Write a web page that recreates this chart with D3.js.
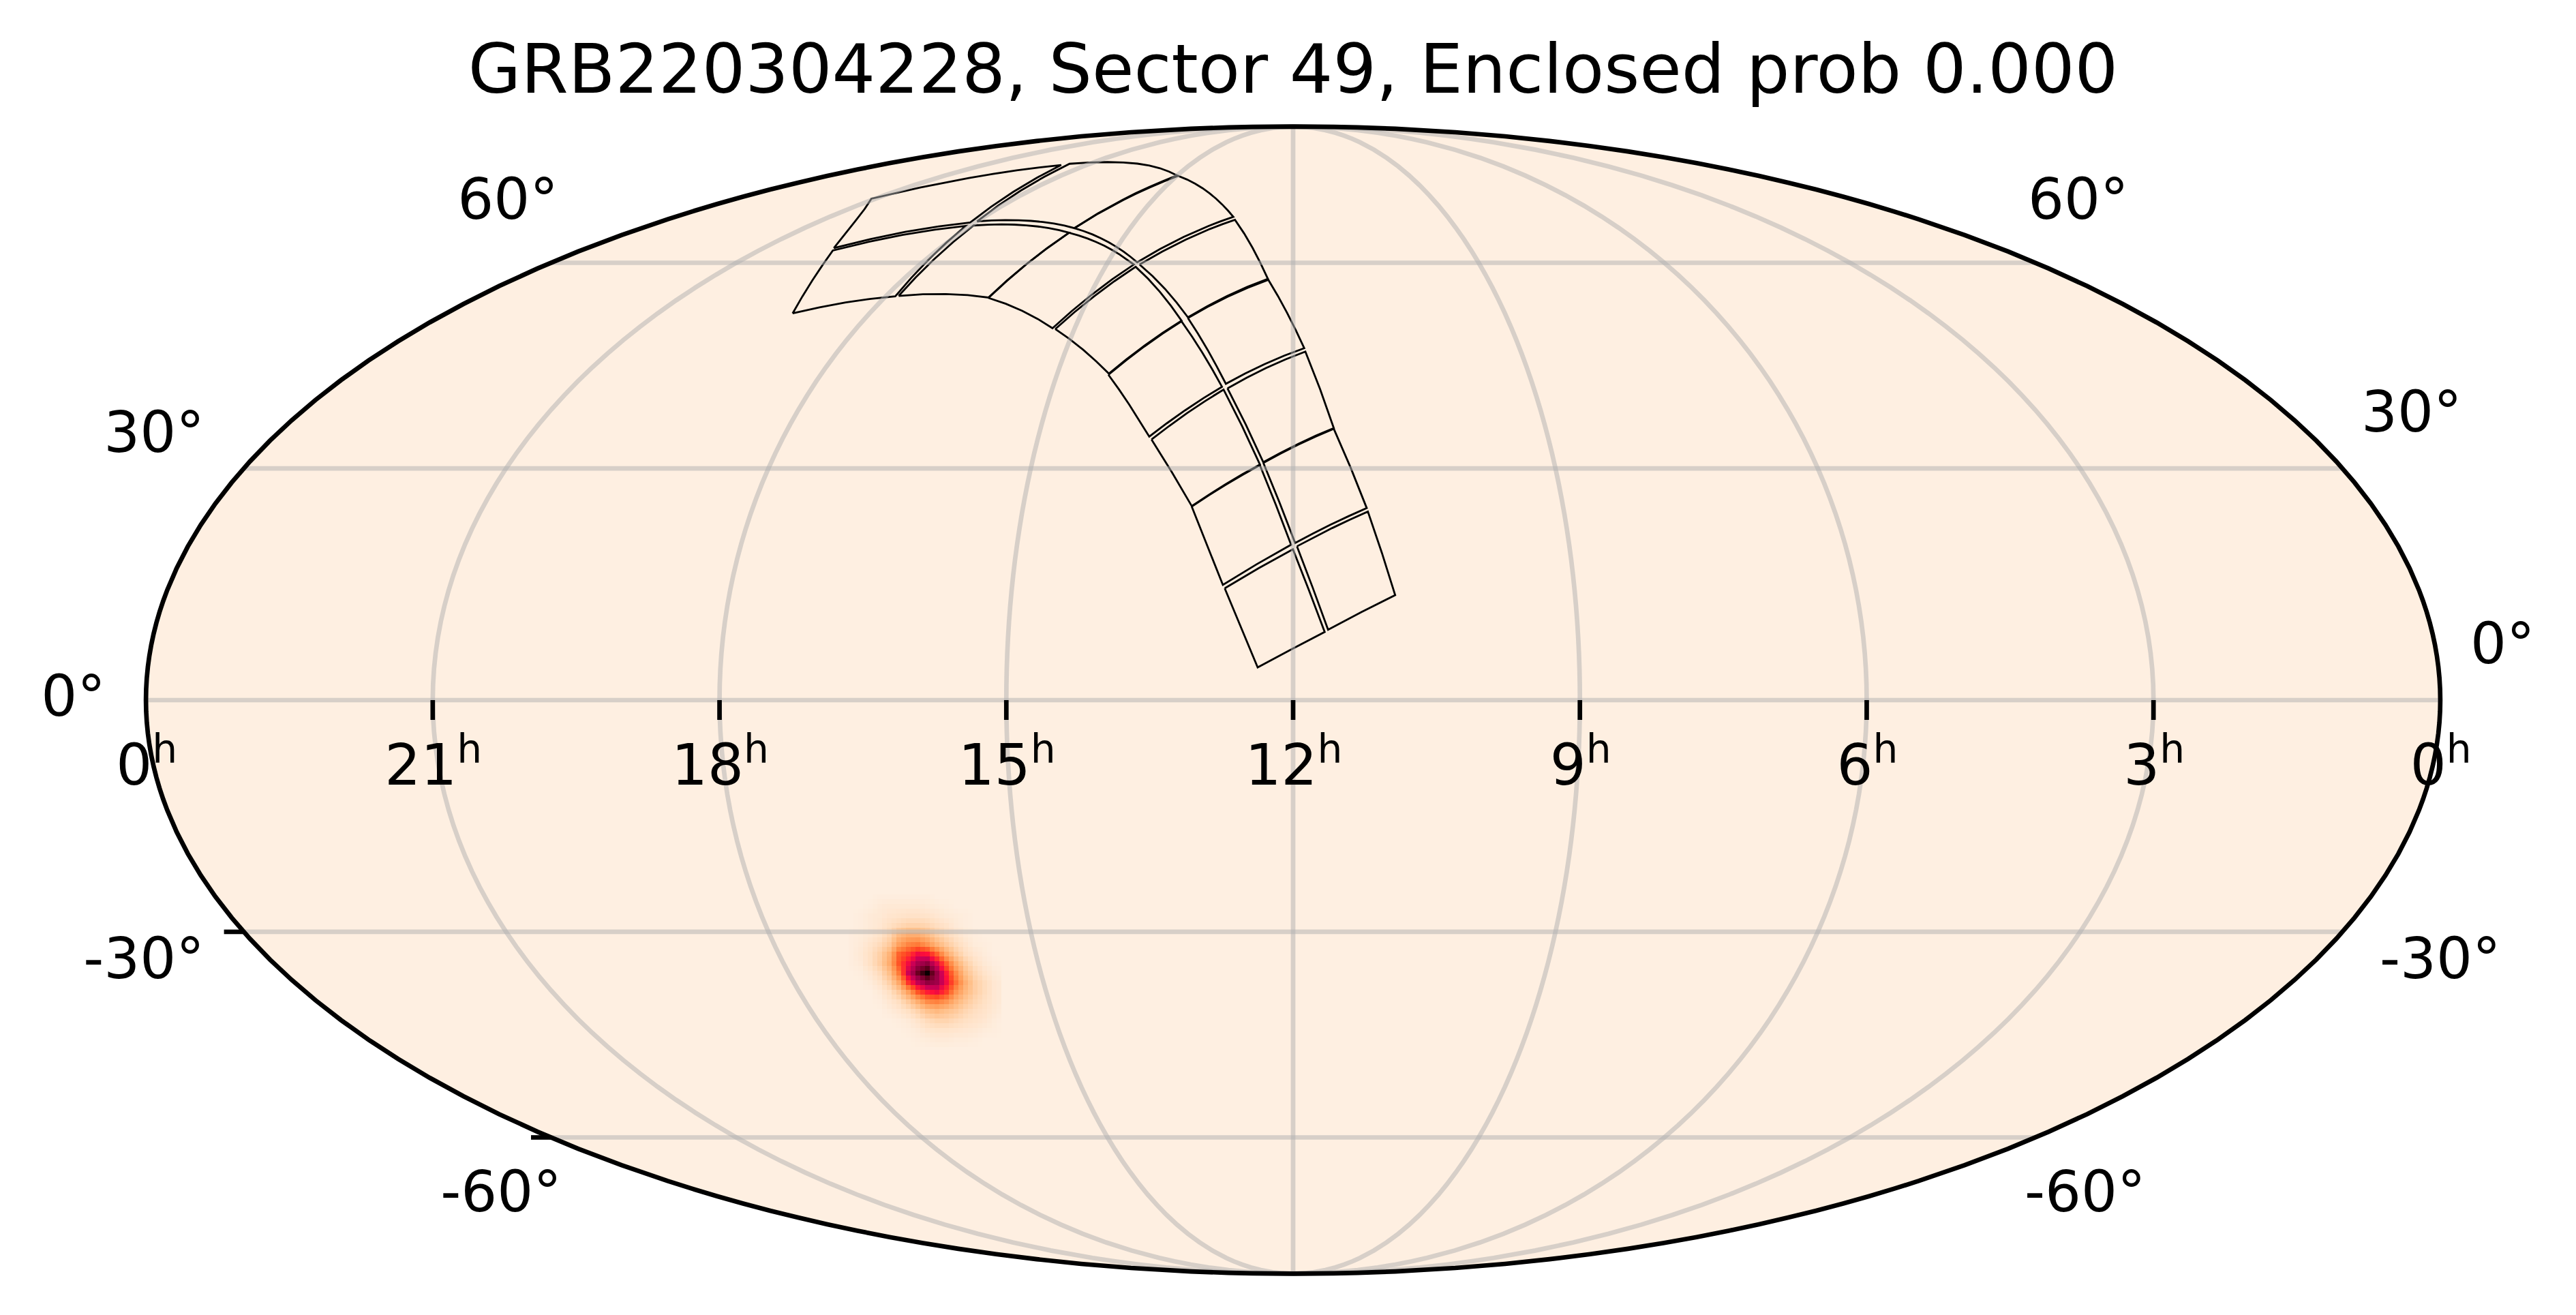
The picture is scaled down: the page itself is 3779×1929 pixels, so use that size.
<!DOCTYPE html>
<html><head><meta charset="utf-8">
<script src="https://cdn.jsdelivr.net/npm/d3@7"></script>
<style>
body { margin: 0; background: #fff; }
text { font-family: "DejaVu Sans"; fill: #000; }
</style></head>
<body><svg id="chart" width="3779" height="1929"></svg>
<script>
const titleText = "GRB220304228, Sector 49, Enclosed prob 0.000"

// grid and tick values
const raHours = [21, 18, 15, 12, 9, 6, 3]
const raLabels = [0, 21, 18, 15, 12, 9, 6, 3, 0]
const raLabelDegrees = [359.99, 315, 270, 225, 180, 135, 90, 45, 0.01]
const decLines = [-60, -30, 0, 30, 60]
const decTicks = [-30, -60]

// CCD corners as [RA, Dec] in degrees
const ccdCorners = [
  [[190.94,14.27],[180.03,19.33],[175.01,8.68],[185.57,4.16]],
  [[179.37,19.71],[167.58,24.26],[163.71,13.40],[174.47,8.97]],
  [[196.90,24.92],[185.71,30.43],[180.33,19.92],[191.25,14.71]],
  [[185.13,30.74],[172.75,35.37],[167.74,24.71],[179.67,20.15]],
  [[204.94,33.91],[192.98,40.84],[185.71,30.52],[196.90,24.98]],
  [[192.27,41.01],[177.58,46.30],[172.75,35.47],[185.14,30.83]],
  [[215.19,42.95],[203.31,50.79],[193.32,41.23],[205.41,34.31]],
  [[202.13,51.30],[185.71,57.24],[177.79,46.80],[192.65,41.66]],
  [[228.94,49.63],[217.70,59.34],[203.34,50.89],[215.16,43.11]],
  [[217.03,59.71],[196.69,67.40],[185.83,57.39],[202.16,51.40]],
  [[247.05,54.38],[240.63,65.09],[218.41,59.71],[229.59,49.76]],
  [[240.39,65.90],[224.43,75.94],[197.41,67.94],[217.86,60.08]],
  [[267.23,54.70],[269.27,66.38],[240.63,65.09],[247.11,54.44]],
  [[270.03,67.11],[278.91,78.61],[225.03,76.03],[240.39,65.90]],
  [[286.33,52.00],[296.31,62.05],[271.28,66.29],[267.88,54.63]],
  [[297.09,62.47],[316.25,71.34],[281.03,78.33],[271.46,66.90]]
]

// probability map around the peak, colormap fraction per cell, estimated by eye
const blobCenter = [245.31, -35.63]
const blobCells = [
  [0,0,0,.01,.01,.01,.01,.01,.01,0,0,0,0,0,0,0,0],
  [0,0,.01,.03,.04,.04,.04,.04,.03,.02,.01,0,0,0,0,0,0],
  [0,.01,.03,.04,.06,.07,.08,.08,.07,.05,.03,.02,.01,0,0,0,0],
  [0,.01,.03,.05,.09,.13,.16,.16,.14,.1,.07,.03,.01,0,0,0,0],
  [.01,.02,.04,.07,.14,.27,.33,.33,.27,.18,.12,.07,.03,.01,0,0,0],
  [.01,.03,.07,.12,.2,.38,.47,.5,.42,.3,.2,.12,.06,.02,.01,0,0],
  [.01,.04,.09,.17,.3,.55,.62,.72,.7,.55,.35,.2,.1,.05,.02,0,0],
  [.01,.03,.09,.18,.33,.58,.72,.84,.88,.75,.55,.33,.18,.09,.04,.01,0],
  [0,.01,.05,.12,.25,.5,.78,.93,1,.87,.68,.45,.25,.14,.07,.03,.01],
  [0,0,.02,.07,.17,.35,.64,.8,.88,.86,.72,.52,.32,.18,.11,.05,.02],
  [0,0,0,.03,.09,.2,.38,.58,.68,.72,.62,.42,.28,.18,.11,.05,.02],
  [0,0,0,.01,.05,.1,.2,.33,.45,.48,.42,.3,.21,.14,.09,.05,.02],
  [0,0,0,0,.02,.05,.09,.16,.24,.28,.24,.2,.14,.1,.07,.04,.01],
  [0,0,0,0,0,.01,.03,.07,.12,.15,.15,.12,.09,.07,.05,.02,0],
  [0,0,0,0,0,0,.01,.03,.06,.07,.07,.06,.05,.04,.02,.01,0],
  [0,0,0,0,0,0,0,.01,.02,.03,.03,.02,.02,.01,0,0,0],
  [0,0,0,0,0,0,0,0,0,0,0,0,0,0,0,0,0]
]
const colorStops = [0, .1, .25, .4, .5, .6, .7, .78, .86, .93, 1]
const colorValues = ["#feefe1", "#ffdfc2", "#ffc08a", "#ff9c58", "#ff7a38", "#ff4a22", "#ff0f3a", "#cc0055", "#a00048", "#6a0020", "#0a0000"]

const svg = d3.select("#chart")

const mollweideRaw = (lambda, phi) => {
  let theta = phi
  const target = Math.PI * Math.sin(phi)
  if (Math.abs(phi) > 1.5707) {
    theta = Math.sign(phi) * Math.PI / 2
  } else {
    for (let i = 0; i < 30; i++) {
      theta -= (2 * theta + Math.sin(2 * theta) - target) / (2 + 2 * Math.cos(2 * theta))
    }
  }
  return [2 * Math.SQRT2 / Math.PI * lambda * Math.cos(theta), Math.SQRT2 * Math.sin(theta)]
}

const projection = d3.geoProjection(mollweideRaw)
  .rotate([180, 0])
  .reflectX(true)
  .scale(595)
  .translate([1897, 1027])
  .precision(0.3)

const path = d3.geoPath(projection)
const color = d3.scaleLinear().domain(colorStops).range(colorValues)

// background
svg.append("path")
  .datum({type: "Sphere"})
  .attr("d", path)
  .attr("fill", color(0))

// probability map, resampled on the fine pixel grid of the map
const cellSize = 14
const subCell = 7
const [blobX, blobY] = projection(blobCenter)
const nRows = blobCells.length
const nCols = blobCells[0].length
const blobPixels = []
for (let r = 0; r < (nRows - 1) * 2; r++) {
  for (let c = 0; c < (nCols - 1) * 2; c++) {
    const r0 = Math.floor(r / 2), c0 = Math.floor(c / 2)
    const fr = r / 2 - r0, fc = c / 2 - c0
    const top = d3.interpolateNumber(blobCells[r0][c0], blobCells[r0][c0 + 1])(fc)
    const bottom = d3.interpolateNumber(blobCells[r0 + 1][c0], blobCells[r0 + 1][c0 + 1])(fc)
    blobPixels.push({r, c, value: d3.interpolateNumber(top, bottom)(fr)})
  }
}
const cellX = d3.scaleLinear().domain([0, nCols - 1]).range([blobX - cellSize * (nCols - 1) / 2, blobX + cellSize * (nCols - 1) / 2])
const cellY = d3.scaleLinear().domain([0, nRows - 1]).range([blobY - cellSize * (nRows - 1) / 2, blobY + cellSize * (nRows - 1) / 2])

svg.append("g")
  .attr("shape-rendering", "crispEdges")
  .selectAll("rect")
  .data(blobPixels)
  .join("rect")
  .attr("x", d => cellX(d.c / 2) - subCell / 2)
  .attr("y", d => cellY(d.r / 2) - subCell / 2)
  .attr("width", subCell)
  .attr("height", subCell)
  .attr("fill", d => color(d.value))

// CCD footprints
svg.append("g")
  .attr("fill", "none")
  .attr("stroke", "#000")
  .attr("stroke-width", 2.8)
  .selectAll("path")
  .data(ccdCorners)
  .join("path")
  .attr("d", d => path({type: "LineString", coordinates: [...d, d[0]]}))

// grid
const grid = svg.append("g")
  .attr("fill", "none")
  .attr("stroke", "#b0b0b0")
  .attr("stroke-opacity", 0.5)
  .attr("stroke-width", 6.67)

grid.selectAll(".meridian")
  .data(raHours)
  .join("path")
  .attr("class", "meridian")
  .attr("d", h => path({type: "LineString", coordinates: d3.range(-90, 90.01, 2).map(dec => [h * 15, dec])}))

grid.selectAll(".parallel")
  .data(decLines)
  .join("path")
  .attr("class", "parallel")
  .attr("d", dec => path({type: "LineString", coordinates: d3.range(0.01, 360, 2).concat(359.99).map(ra => [ra, dec])}))

// outline
svg.append("path")
  .datum({type: "Sphere"})
  .attr("d", path)
  .attr("fill", "none")
  .attr("stroke", "#000")
  .attr("stroke-width", 6.67)

// ticks along the equator and on the lower left edge
svg.append("g")
  .attr("stroke", "#000")
  .attr("stroke-width", 6.67)
  .selectAll("line")
  .data(raHours)
  .join("line")
  .attr("x1", h => projection([h * 15, 0])[0])
  .attr("x2", h => projection([h * 15, 0])[0])
  .attr("y1", h => projection([h * 15, 0])[1])
  .attr("y2", h => projection([h * 15, 0])[1] + 29)

svg.append("g")
  .attr("stroke", "#000")
  .attr("stroke-width", 6.67)
  .selectAll("line")
  .data(decTicks)
  .join("line")
  .attr("x1", dec => projection([359.99, dec])[0])
  .attr("x2", dec => projection([359.99, dec])[0] - 29)
  .attr("y1", dec => projection([359.99, dec])[1])
  .attr("y2", dec => projection([359.99, dec])[1])

// RA labels with a raised h
const raText = svg.append("g")
  .attr("font-size", 83.3)
  .attr("text-anchor", "middle")
  .selectAll("text")
  .data(raLabels)
  .join("text")
  .attr("x", (d, i) => projection([raLabelDegrees[i], 0])[0] + 1)
  .attr("y", 1151)
  .text(d => d)
raText.append("tspan")
  .attr("dy", -32)
  .attr("font-size", 58.3)
  .text("h")

// declination labels sit where matplotlib left them, so each gets its own spot
const decSpots = [
  {dec: 0, left: [155, 1020], right: [3624, 943]},
  {dec: 30, left: [300, 633], right: [3464, 603]},
  {dec: 60, left: [819, 291], right: [2975, 291]},
  {dec: -30, left: [300, 1405], right: [3491, 1405]},
  {dec: -60, left: [824, 1747], right: [2970, 1747]}
]
const decLabels = svg.append("g").attr("font-size", 83.3)
decLabels.selectAll(".left")
  .data(decSpots)
  .join("text")
  .attr("class", "left")
  .attr("text-anchor", "end")
  .attr("x", d => d.left[0])
  .attr("y", d => d.left[1])
  .attr("dy", "0.36em")
  .text(d => `${d.dec}°`)
decLabels.selectAll(".right")
  .data(decSpots)
  .join("text")
  .attr("class", "right")
  .attr("text-anchor", "start")
  .attr("x", d => d.right[0])
  .attr("y", d => d.right[1])
  .attr("dy", "0.36em")
  .text(d => `${d.dec}°`)

svg.append("text")
  .attr("x", 1897)
  .attr("y", 136)
  .attr("text-anchor", "middle")
  .attr("font-size", 100)
  .text(titleText)
</script></body></html>
